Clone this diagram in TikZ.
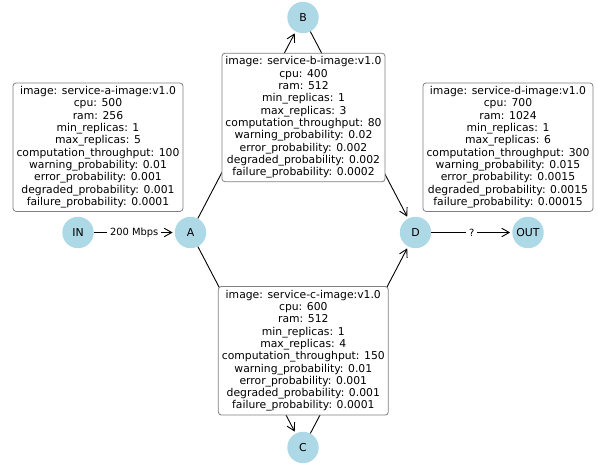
\documentclass[tikz,border=0pt]{standalone}
\usepackage{fontspec}
\setmainfont{DejaVu Sans}
\usetikzlibrary{arrows.meta}
\definecolor{nodeblue}{HTML}{ADD8E6}
\definecolor{boxgray}{HTML}{808080}
\tikzset{
 vertex/.style={circle, fill=nodeblue, minimum size=31.4pt, inner sep=0pt, font=\fontsize{10.9}{13}\selectfont},
 edge/.style={draw=black, line width=0.9pt, -{Straight Barb[length=7.5pt,width=8.5pt]}, shorten >=2pt},
 infobox/.style={draw=boxgray, fill=white, rounded corners=3pt, line width=0.8pt, align=center, inner xsep=3.5pt, inner ysep=3.5pt, font=\fontsize{10.8}{12.3}\selectfont},
 elabel/.style={fill=white, inner xsep=3pt, inner ysep=1pt, font=\fontsize{9.9}{11}\selectfont}
}
\begin{document}
\begin{tikzpicture}[x=1pt,y=-1pt]
\useasboundingbox (0,0) rectangle (598,465);
\node[vertex] (IN) at (78,232.5) {IN};
\node[vertex] (A) at (190.5,232.5) {A};
\node[vertex] (B) at (303,17.5) {B};
\node[vertex] (C) at (303,447.5) {C};
\node[vertex] (D) at (415.5,232.5) {D};
\node[vertex] (OUT) at (528,232.5) {OUT};
\draw[edge] (IN) -- node[elabel] {200 Mbps} (A);
\draw[edge] (A) -- (B);
\draw[edge] (A) -- (C);
\draw[edge] (B) -- (D);
\draw[edge] (C) -- (D);
\draw[edge] (D) -- node[elabel] {?} (OUT);
\node[infobox] (boxA) at (98,147.2) {image: service-a-image:v1.0\\cpu: 500\\ram: 256\\min\_replicas: 1\\max\_replicas: 5\\computation\_throughput: 100\\warning\_probability: 0.01\\error\_probability: 0.001\\degraded\_probability: 0.001\\failure\_probability: 0.0001};
\node[infobox] (boxB) at (303.5,117.5) {image: service-b-image:v1.0\\cpu: 400\\ram: 512\\min\_replicas: 1\\max\_replicas: 3\\computation\_throughput: 80\\warning\_probability: 0.02\\error\_probability: 0.002\\degraded\_probability: 0.002\\failure\_probability: 0.0002};
\node[infobox] (boxC) at (303.3,350.8) {image: service-c-image:v1.0\\cpu: 600\\ram: 512\\min\_replicas: 1\\max\_replicas: 4\\computation\_throughput: 150\\warning\_probability: 0.01\\error\_probability: 0.001\\degraded\_probability: 0.001\\failure\_probability: 0.0001};
\node[infobox] (boxD) at (508,147.2) {image: service-d-image:v1.0\\cpu: 700\\ram: 1024\\min\_replicas: 1\\max\_replicas: 6\\computation\_throughput: 300\\warning\_probability: 0.015\\error\_probability: 0.0015\\degraded\_probability: 0.0015\\failure\_probability: 0.00015};
\end{tikzpicture}
\end{document}
